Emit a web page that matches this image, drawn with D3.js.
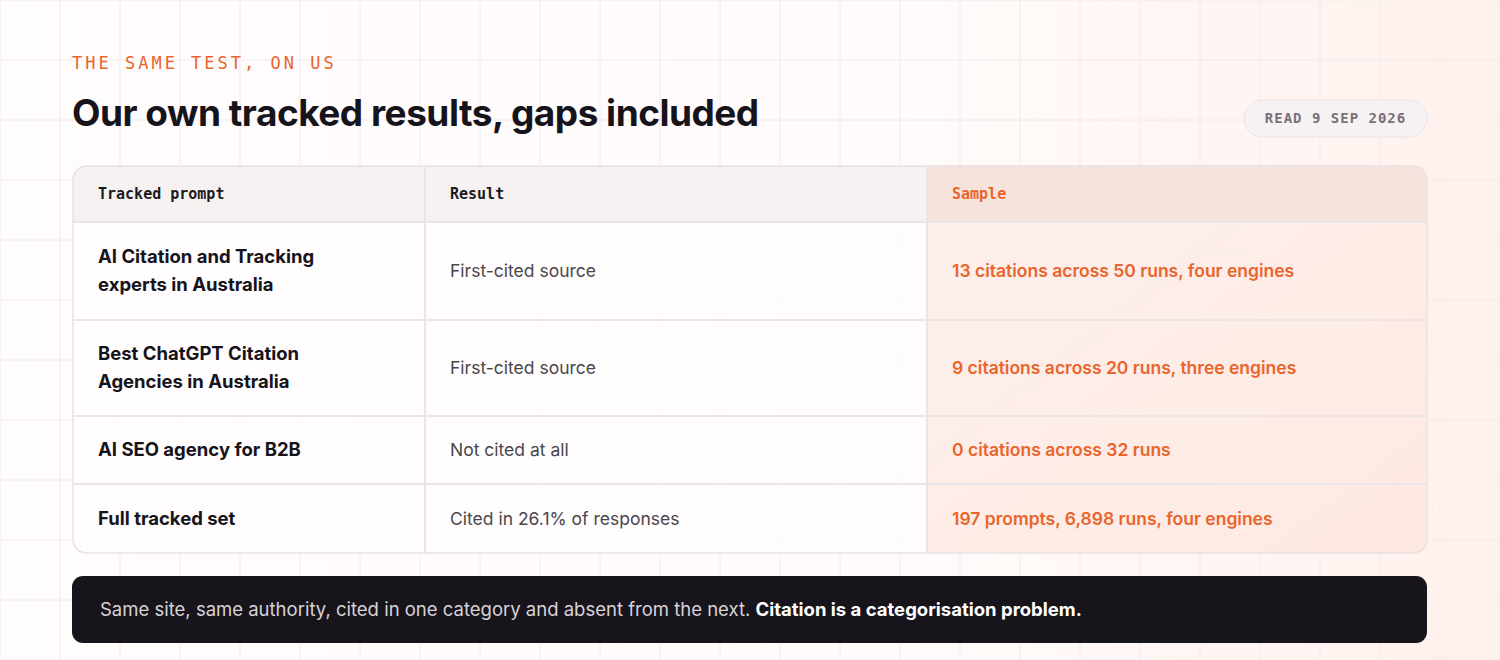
<!DOCTYPE html>
<html><head><meta charset="utf-8">
<script src="https://cdn.jsdelivr.net/npm/d3@7"></script>
<style>body{margin:0;background:#fffcfd;} svg{display:block}</style>
</head><body><svg id="c"></svg>
<script>
var headers = ["Tracked prompt", "Result", "Sample"];
var prompts = [["AI Citation and Tracking", "experts in Australia"], ["Best ChatGPT Citation", "Agencies in Australia"], ["AI SEO agency for B2B"], ["Full tracked set"]];
var results = ["First-cited source", "First-cited source", "Not cited at all", "Cited in 26.1% of responses"];
var samples = ["13 citations across 50 runs, four engines", "9 citations across 20 runs, three engines", "0 citations across 32 runs", "197 prompts, 6,898 runs, four engines"];
var rowBounds = [166, 222, 320, 416, 484, 553];
var colBounds = [73, 425, 927, 1427];

var W = 1500, H = 660, sans = "Inter, 'Noto Sans', sans-serif", mono = "'DejaVu Sans Mono', 'Liberation Mono', monospace";
var orange = "#e8652c";
var svg = d3.select("#c").attr("width", W).attr("height", H);
var defs = svg.append("defs");
var bg = defs.append("linearGradient").attr("id", "bg").attr("x1", 0).attr("x2", 1).attr("y1", 0).attr("y2", 0);
bg.append("stop").attr("offset", 0).attr("stop-color", "#fffcfd");
bg.append("stop").attr("offset", 0.6).attr("stop-color", "#fffbfb");
bg.append("stop").attr("offset", 1).attr("stop-color", "#fff1ec");
svg.append("rect").attr("width", W).attr("height", H).attr("fill", "url(#bg)");
var g = svg.append("g");
d3.range(0, W + 1, 60).forEach(function (x) { g.append("line").attr("x1", x).attr("x2", x).attr("y1", 0).attr("y2", H).attr("stroke", "#f1eaec"); });
d3.range(0, H + 1, 60).forEach(function (y) { g.append("line").attr("y1", y).attr("y2", y).attr("x1", 0).attr("x2", W).attr("stroke", "#f1eaec"); });

svg.append("text").attr("x", 72).attr("y", 69).text("THE SAME TEST, ON US").attr("font-family", mono).attr("font-size", 17).attr("letter-spacing", 3).attr("fill", orange);
svg.append("text").attr("x", 72).attr("y", 126).text("Our own tracked results, gaps included").attr("font-family", sans).attr("font-size", 37).attr("font-weight", 700).attr("fill", "#16141a").attr("letter-spacing", -0.5);
svg.append("rect").attr("x", 1244).attr("y", 100).attr("width", 183).attr("height", 37).attr("rx", 18.5).attr("fill", "#f6f1f3").attr("stroke", "#ece4e7");
svg.append("text").attr("x", 1335.5).attr("y", 123).attr("text-anchor", "middle").text("READ 9 SEP 2026").attr("font-family", mono).attr("font-weight", 700).attr("font-size", 14).attr("letter-spacing", 1).attr("fill", "#7a7078");

var x = d3.scaleOrdinal().domain(d3.range(4)).range(colBounds);
var y = d3.scaleOrdinal().domain(d3.range(6)).range(rowBounds);
var tl = colBounds[0], tr = colBounds[3], tt = rowBounds[0], tb = rowBounds[5];
defs.append("clipPath").attr("id", "tc").append("rect").attr("x", tl).attr("y", tt).attr("width", tr - tl).attr("height", tb - tt).attr("rx", 14);
var sg = defs.append("linearGradient").attr("id", "sg").attr("x1", 0).attr("x2", 1).attr("y1", 0).attr("y2", 1);
sg.append("stop").attr("offset", 0).attr("stop-color", "#fdf0ec");
sg.append("stop").attr("offset", 1).attr("stop-color", "#fee9e2");
var t = svg.append("g").attr("clip-path", "url(#tc)");
t.append("rect").attr("x", tl).attr("y", tt).attr("width", tr - tl).attr("height", tb - tt).attr("fill", "#fffcfd").attr("opacity", 0.8);
t.append("rect").attr("x", x(2)).attr("y", tt).attr("width", tr - x(2)).attr("height", tb - tt).attr("fill", "url(#sg)");
t.append("rect").attr("x", tl).attr("y", tt).attr("width", x(2) - tl).attr("height", y(1) - tt).attr("fill", "#f6f2f2");
t.append("rect").attr("x", x(2)).attr("y", tt).attr("width", tr - x(2)).attr("height", y(1) - tt).attr("fill", "#f6e3de");
d3.range(1, 5).forEach(function (i) { t.append("line").attr("x1", tl).attr("x2", tr).attr("y1", y(i)).attr("y2", y(i)).attr("stroke", "#ebe5e8").attr("stroke-width", 2); });
[1, 2].forEach(function (i) { t.append("line").attr("x1", x(i)).attr("x2", x(i)).attr("y1", tt).attr("y2", tb).attr("stroke", "#ebe5e8").attr("stroke-width", 2); });
svg.append("rect").attr("x", tl).attr("y", tt).attr("width", tr - tl).attr("height", tb - tt).attr("rx", 14).attr("fill", "none").attr("stroke", "#e8e1e4").attr("stroke-width", 1.5);

svg.selectAll("text.h").data(headers).join("text").attr("class", "h")
  .attr("x", function (d, i) { return x(i) + 25; }).attr("y", (y(0) + y(1)) / 2 + 5)
  .text(function (d) { return d; }).attr("font-family", mono).attr("font-weight", 700).attr("font-size", 15)
  .attr("fill", function (d, i) { return i == 2 ? orange : "#1b1a1e"; });

var mid = function (i) { return (y(i + 1) + y(i + 2)) / 2; };
prompts.forEach(function (lines, i) {
  var tx = svg.append("text").attr("font-family", sans).attr("font-weight", 700).attr("font-size", 18.5).attr("fill", "#16141a");
  lines.forEach(function (l, k) {
    tx.append("tspan").attr("x", x(0) + 25).attr("y", mid(i) + 6 + (k - (lines.length - 1) / 2) * 28).text(l);
  });
});
svg.selectAll("text.r").data(results).join("text").attr("class", "r")
  .attr("x", x(1) + 25).attr("y", function (d, i) { return mid(i) + 6; }).text(function (d) { return d; })
  .attr("font-family", sans).attr("font-size", 17.5).attr("fill", "#4a464c");
svg.selectAll("text.s").data(samples).join("text").attr("class", "s")
  .attr("x", x(2) + 25).attr("y", function (d, i) { return mid(i) + 6; }).text(function (d) { return d; })
  .attr("font-family", sans).attr("font-weight", 600).attr("font-size", 17.5).attr("fill", orange);

svg.append("rect").attr("x", 72).attr("y", 576).attr("width", 1355).attr("height", 67).attr("rx", 11).attr("fill", "#17151b");
var ft = svg.append("text").attr("x", 100).attr("y", 616).attr("font-family", sans).attr("font-size", 18.5);
ft.append("tspan").text("Same site, same authority, cited in one category and absent from the next. ").attr("fill", "#d8d3d8");
ft.append("tspan").text("Citation is a categorisation problem.").attr("fill", "#ffffff").attr("font-weight", 700);
</script></body></html>
